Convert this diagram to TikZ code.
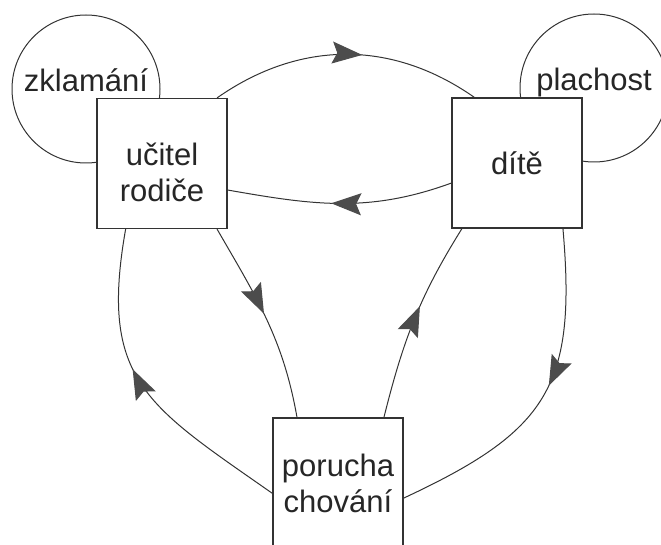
\documentclass[tikz,border=0pt]{standalone}
\usepackage{fontspec}
\setmainfont{Liberation Sans}
\usetikzlibrary{arrows.meta,decorations.markings}
\tikzset{flow/.style={draw=black!80, line width=1pt, postaction={decorate},
  decoration={markings, mark=at position #1 with {\arrow{Stealth[length=30pt,width=22pt,inset=5pt,color=black!70]}}}}}

\begin{document}
\begin{tikzpicture}[x=10pt,y=10pt]
\tikzstyle{every node}+=[inner sep=0pt, text=black!85, font=\fontsize{31}{36}\selectfont]
\tikzstyle{feel}=[draw=black!80, line width=1pt, circle, minimum size=148pt, text depth=18pt]
\tikzstyle{actor}=[draw=black!80, line width=1.2pt, fill=white, minimum width=130pt, minimum height=130pt, align=center]
\useasboundingbox (0,0) rectangle (66.1,-54.5);
\node [feel] (zklamani) at (8.6,-8.9) {zklamání};
\node [feel] (plachost) at (59.4,-8.8) {plachost};
\node [actor] (ucitel) at (16.2,-16.35) {};
\node [align=center] (ucitel-txt) at (16.2,-17.25) {učitel\\rodiče};
\node [actor] (dite) at (51.7,-16.3) {dítě};
\node [actor] (porucha) at (33.8,-48.3) {porucha\\chování};
\draw [flow=0.56] (ucitel.50) to[out=35,in=145] (dite.123);
\draw [flow=0.54] (dite.197) to[out=200,in=-10] (ucitel.338);
\draw [flow=0.57] (porucha.189) to[out=145,in=-100,looseness=1.3] (ucitel.241);
\draw [flow=0.47] (ucitel.-50) to[out=-60,in=100] (porucha.122);
\draw [flow=0.57] (porucha.55) to[out=76,in=-122] (dite.230);
\draw [flow=0.46] (dite.-55) to[out=-85,in=25,looseness=1.3] (porucha.-13);
\end{tikzpicture}
\end{document}
